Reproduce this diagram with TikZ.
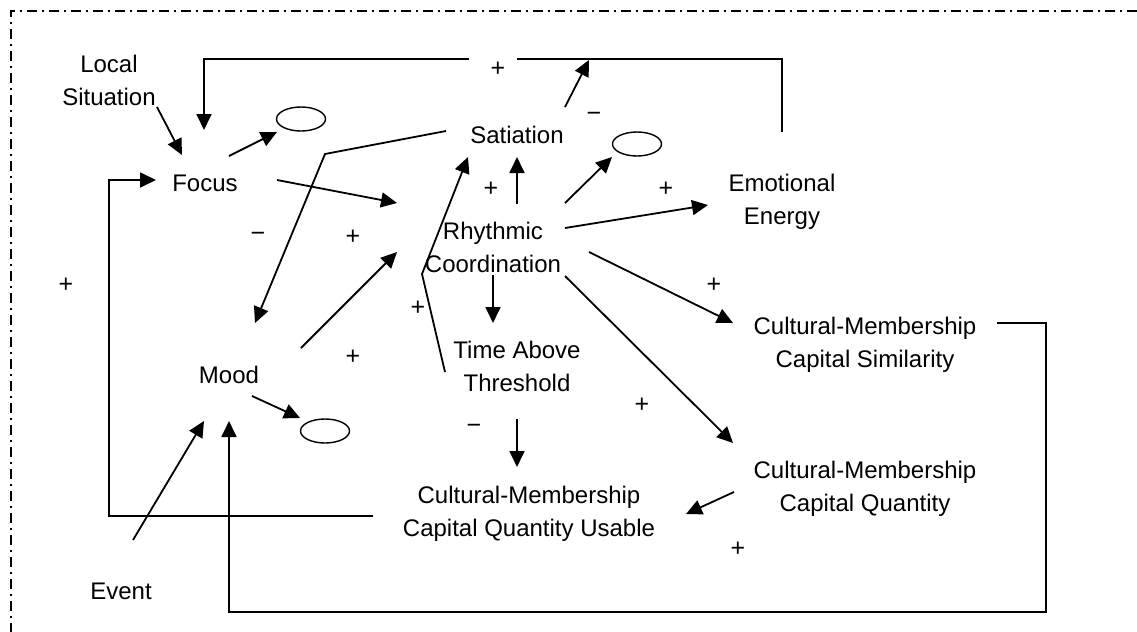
\documentclass[tikz,border=0pt]{standalone}
\usepackage{fontspec}
\setmainfont{Liberation Sans}
\usepackage{tikz}
\usetikzlibrary{calc, shapes, arrows.meta, positioning}
\tikzset{
    textnode/.style  = {draw=none, fill=none, rectangle, inner sep=0em, align=center,
      font=\fontsize{12}{16.5}\selectfont},
    signnode/.style  = {draw=none, fill=none, inner sep=0em, font=\fontsize{12.5}{14}\selectfont},
    ovalnode/.style  = {draw, ellipse, inner sep=0em, minimum width=24.5pt, minimum height=12pt,
      line width=0.7pt},
    connect/.style   = {black, line width=0.9pt, -{Triangle[length=8pt, width=7.5pt]}},
    loopline/.style  = {black, line width=0.9pt},
    frameline/.style = {black, line width=0.6pt, dash pattern=on 5pt off 2.5pt on 1pt off 2.5pt}
}

\begin{document}
\begin{tikzpicture}[x=0.5pt, y=-0.5pt]
    \useasboundingbox (0,0) rectangle (1137,632);
    \draw [frameline] (1137,11) -| (11,632);

    % nodes
    \node [name=locsit, textnode] at (109,80) {Local\\Situation};
    \node [name=focus, textnode] at (205,183) {Focus};
    \node [name=satiation, textnode] at (517,135) {Satiation};
    \node [name=emotion, textnode] at (782,202) {Emotional\\Energy};
    \node [name=rhythm, textnode] at (493,247) {Rhythmic\\Coordination};
    \node [name=timeab, textnode] at (517,366) {Time Above\\Threshold};
    \node [name=mood, textnode] at (229,375) {Mood};
    \node [name=cmsim, textnode] at (865,345) {Cultural-Membership\\Capital Similarity};
    \node [name=cmqty, textnode] at (865,489) {Cultural-Membership\\Capital Quantity};
    \node [name=cmuse, textnode] at (529,514) {Cultural-Membership\\Capital Quantity Usable};
    \node [name=event, textnode] at (121,591) {Event};

    \node [name=focusout, ovalnode] at (301,119) {};
    \node [name=satout, ovalnode] at (637,144) {};
    \node [name=moodout, ovalnode] at (325,431) {};

    % signs
    \node [name=p1, signnode] at (498,69) {+};
    \node [name=m1, signnode] at (594,117) {−};
    \node [name=p2, signnode] at (491,189) {+};
    \node [name=p3, signnode] at (666,189) {+};
    \node [name=m2, signnode] at (258,237) {−};
    \node [name=p4, signnode] at (353,237) {+};
    \node [name=p5, signnode] at (66,285) {+};
    \node [name=p6, signnode] at (714,285) {+};
    \node [name=p7, signnode] at (418,308) {+};
    \node [name=p8, signnode] at (353,357) {+};
    \node [name=p9, signnode] at (642,405) {+};
    \node [name=m3, signnode] at (474,429) {−};
    \node [name=p10, signnode] at (738,549) {+};

    % bends of the feedback lines
    \coordinate (gapL) at (469,59);
    \coordinate (gapR) at (517,59);
    \coordinate (tophit) at (589,60);
    \coordinate (satbend) at (325,154);
    \coordinate (timebend) at (422,274);
    \coordinate (cornerW) at (109,516);
    \coordinate (cornerSE) at (1046,612);

    % arrows
    \draw ($(locsit)+(48,27)$) edge[connect] ($(focus)+(-23,-28)$);
    \draw ($(focus)+(24,-27)$) edge[connect] ($(focusout)+(-24,13)$);
    \draw ($(focus)+(72,-3)$) edge[connect] ($(rhythm)+(-96,-44)$);
    \draw ($(satiation)+(48,-28)$) edge[connect] (tophit);
    \draw [connect] ($(satiation)+(-71,-4)$) -- (satbend) -- ($(mood)+(26,-52)$);
    \draw ($(rhythm)+(24,-43)$) edge[connect] ($(satiation)+(0,22)$);
    \draw [connect] ($(timeab)+(-72,6)$) -- (timebend) -- ($(satiation)+(-49,22)$);
    \draw ($(rhythm)+(72,-44)$) edge[connect] ($(satout)+(-25,13)$);
    \draw ($(rhythm)+(72,-19)$) edge[connect] ($(emotion)+(-74,3)$);
    \draw ($(rhythm)+(96,5)$) edge[connect] ($(cmsim)+(-132,-22)$);
    \draw ($(rhythm)+(72,29)$) edge[connect] ($(cmqty)+(-132,-46)$);
    \draw ($(rhythm)+(0,28)$) edge[connect] ($(timeab)+(-24,-43)$);
    \draw ($(mood)+(72,-27)$) edge[connect] ($(rhythm)+(-96,5)$);
    \draw ($(mood)+(23,21)$) edge[connect] ($(moodout)+(-25,-13)$);
    \draw ($(event)+(12,-51)$) edge[connect] ($(mood)+(-25,46)$);
    \draw ($(timeab)+(0,53)$) edge[connect] ($(cmuse)+(-12,-47)$);
    \draw ($(cmqty)+(-131,3)$) edge[connect] ($(cmuse)+(157,0)$);

    % feedback loops
    \draw [loopline] ($(emotion)+(0,-70)$) |- (gapR);
    \draw [connect] (gapL) -| ($(focus)+(-1,-53)$);
    \draw [connect] ($(cmuse)+(-156,2)$) -- (cornerW) |- ($(focus)+(-49,-3)$);
    \draw [connect] ($(cmsim)+(132,-22)$) -| (cornerSE) -| ($(mood)+(0,46)$);
\end{tikzpicture}
\end{document}
